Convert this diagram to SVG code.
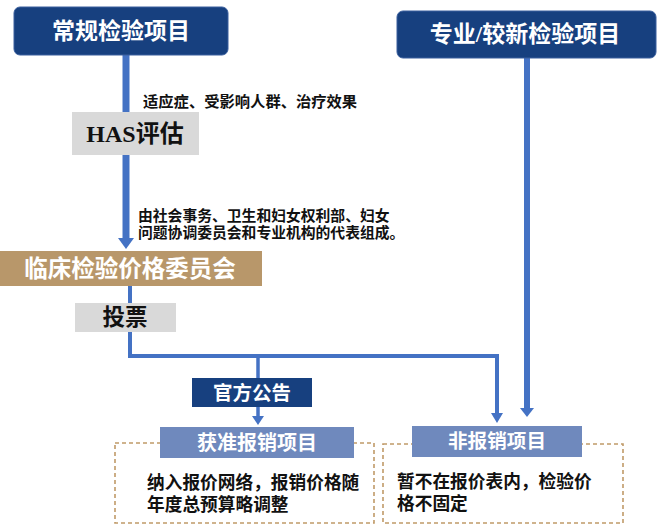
<svg xmlns="http://www.w3.org/2000/svg" width="665" height="528" viewBox="0 0 665 528">
<style>
text{font-family:"Liberation Serif","Noto Sans CJK SC",serif;font-weight:bold;dominant-baseline:central}
.w{fill:#ffffff}
.k{fill:#111111}
.c{text-anchor:middle}
.dk{fill:#17407f}
.gr{fill:#d9d9d9}
.mb{fill:#6f89bd}
.dash{fill:none;stroke:#c09a68;stroke-width:1.6;stroke-dasharray:4 3}
.ln{fill:none;stroke:#4472c4}
.ah{fill:#4472c4}
</style>
<g id="connectors">
<line class="ln" x1="126" y1="54" x2="126" y2="112" stroke-width="7"/>
<line class="ln" x1="126" y1="155" x2="126" y2="240" stroke-width="7"/>
<polygon class="ah" points="118,238 134,238 126,249"/>
<line class="ln" x1="130" y1="285" x2="130" y2="303" stroke-width="4"/>
<polyline class="ln" points="130,332 130,356 497,356 497,414" stroke-width="4"/>
<polygon class="ah" points="491,413 503,413 497,423"/>
<line class="ln" x1="258" y1="356" x2="258" y2="378" stroke-width="3.5"/>
<line class="ln" x1="258" y1="407" x2="258" y2="418" stroke-width="3.5"/>
<polygon class="ah" points="252,416 264,416 258,425"/>
<line class="ln" x1="527" y1="58" x2="527" y2="410" stroke-width="6"/>
<polygon class="ah" points="520,408 534,408 527,417"/>
</g>
<g id="node-regular">
<rect x="14" y="7" width="214" height="48" rx="6" class="dk" stroke="#3a5f9e" stroke-width="1"/>
<text x="121" y="31" class="w c" font-size="23">常规检验项目</text>
</g>
<g id="node-new">
<rect x="397" y="11" width="259" height="47" rx="6" class="dk" stroke="#3a5f9e" stroke-width="1"/>
<text x="525" y="34.5" class="w c" font-size="23">专业/较新检验项目</text>
</g>
<g id="label-has">
<text x="143" y="101.5" class="k" font-size="15.3">适应症、受影响人群、治疗效果</text>
</g>
<g id="node-has">
<rect x="72" y="112" width="127" height="43" class="gr"/>
<text x="135" y="134" class="k c" font-size="24">HAS评估</text>
</g>
<g id="label-committee">
<text x="138" y="216" class="k" font-size="14.8">由社会事务、卫生和妇女权利部、妇女</text>
<text x="138" y="232.5" class="k" font-size="14.8">问题协调委员会和专业机构的代表组成。</text>
</g>
<g id="node-committee">
<rect x="0" y="251" width="262" height="35" fill="#b8976a"/>
<text x="130" y="268.5" class="w c" font-size="23.5">临床检验价格委员会</text>
</g>
<g id="node-vote">
<rect x="75" y="303" width="101" height="29" class="gr"/>
<text x="125" y="317.5" class="k c" font-size="22.5">投票</text>
</g>
<g id="node-announce">
<rect x="192" y="378" width="120" height="29" class="dk"/>
<text x="252" y="393" class="w c" font-size="19.5">官方公告</text>
</g>
<g id="node-reimbursed">
<rect x="115" y="443" width="259" height="80" class="dash"/>
<rect x="160" y="427" width="194" height="31" class="mb"/>
<text x="257" y="442.5" class="w c" font-size="20">获准报销项目</text>
<text x="147" y="482.5" class="k" font-size="17.7">纳入报价网络，报销价格随</text>
<text x="147" y="504.5" class="k" font-size="17.7">年度总预算略调整</text>
</g>
<g id="node-nonreimbursed">
<rect x="383" y="444" width="240" height="79" class="dash"/>
<rect x="412" y="426" width="170" height="31" class="mb"/>
<text x="497" y="441.5" class="w c" font-size="19.6">非报销项目</text>
<text x="397" y="482" class="k" font-size="17.7">暂不在报价表内，检验价</text>
<text x="397" y="504" class="k" font-size="17.7">格不固定</text>
</g>
</svg>
